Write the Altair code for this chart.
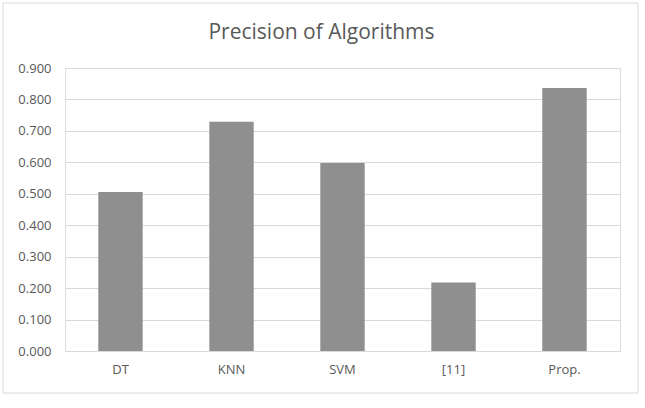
import altair as alt
import pandas as pd

title_text = "Precision of Algorithms"
categories = ["DT", "KNN", "SVM", "[11]", "Prop."]
precision = [0.506, 0.729, 0.598, 0.218, 0.836]
y_ticks = [0.0, 0.1, 0.2, 0.3, 0.4, 0.5, 0.6, 0.7, 0.8, 0.9]

df = pd.DataFrame({"algorithm": categories, "precision": precision})

FONT = "Open Sans"
TXT = "#595959"

one = pd.DataFrame({"t": [title_text]})

border = alt.Chart(one).mark_rect(
    fillOpacity=0, stroke="#d9d9d9", strokeWidth=1
).encode(
    x=alt.value(-62), x2=alt.value(573), y=alt.value(-65), y2=alt.value(325)
)

title = alt.Chart(one).mark_text(
    font=FONT, fontSize=21, color=TXT, align="center", baseline="middle"
).encode(
    text="t:N", x=alt.value(256.5), y=alt.value(-35)
)

bars = alt.Chart(df).mark_bar(color="#8f8f8f").encode(
    x=alt.X("algorithm:N", sort=categories,
            scale=alt.Scale(paddingInner=0.6, paddingOuter=0.3),
            axis=alt.Axis(title=None, labelAngle=0, ticks=False, domain=False,
                          labelPadding=12, labelFont=FONT, labelFontSize=13,
                          labelColor=TXT)),
    y=alt.Y("precision:Q", scale=alt.Scale(domain=[0, 0.9], nice=False),
            axis=alt.Axis(title=None, values=y_ticks, format=".3f", ticks=False,
                          domain=False, labelPadding=14, labelFont=FONT,
                          labelFontSize=13, labelColor=TXT, gridColor="#d9d9d9",
                          gridWidth=1)),
)

chart = alt.layer(border, title, bars).properties(
    width=555, height=283,
    autosize=alt.AutoSizeParams(type="none"),
    padding={"left": 65, "top": 68, "right": 25, "bottom": 57},
).configure_view(stroke=None).configure(background="white")

chart.save("out.html", embed_options={"renderer": "svg", "actions": False})
